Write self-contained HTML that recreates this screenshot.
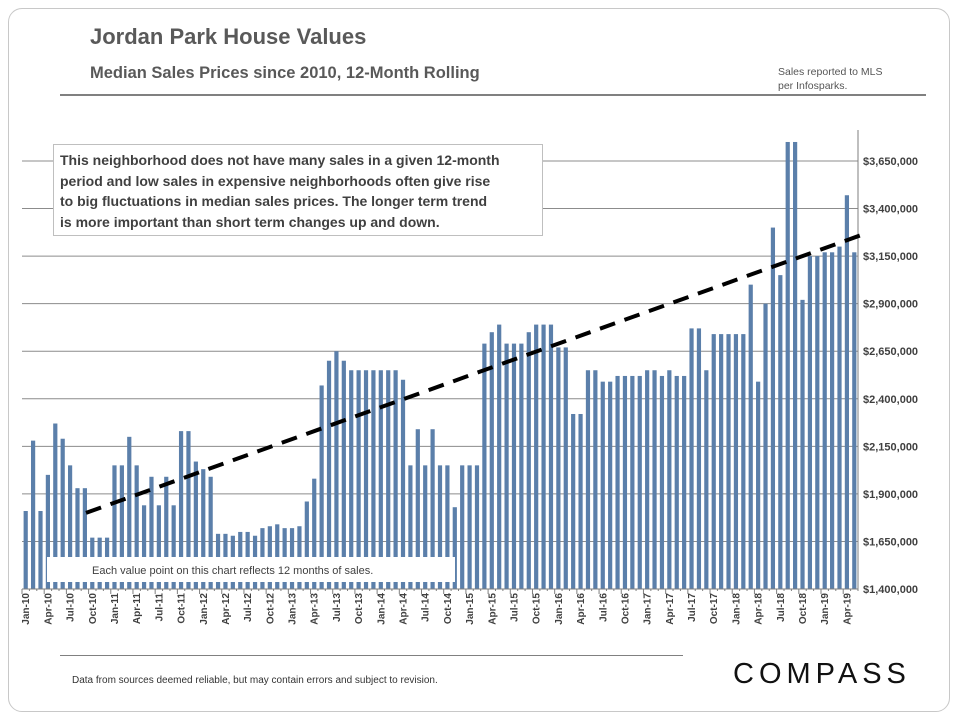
<!DOCTYPE html>
<html><head><meta charset="utf-8"><style>
body{margin:0;width:960px;height:720px;background:#fff;position:relative;font-family:"Liberation Sans",sans-serif;overflow:hidden}
.abs{position:absolute}
</style></head><body>
<div class="abs" style="left:8px;top:8px;width:940px;height:702px;border:1px solid #c8c8c8;border-radius:14px"></div>
<div class="abs" style="left:90px;top:24px;font-size:22px;font-weight:bold;color:#595959">Jordan Park House Values</div>
<div class="abs" style="left:90px;top:64px;font-size:16.5px;font-weight:bold;color:#595959">Median Sales Prices since 2010, 12-Month Rolling</div>
<div class="abs" style="left:778px;top:65px;font-size:10.5px;color:#555;line-height:14px">Sales reported to MLS<br>per Infosparks.</div>
<div class="abs" style="left:60px;top:94px;width:866px;height:2px;background:#808080"></div>
<svg class="abs" style="left:0;top:0" width="960" height="720" id="chart"></svg>
<div class="abs" style="left:53px;top:144px;width:476px;height:80px;border:1px solid #bfbfbf;background:#fff;padding:5px 6px;font-size:14px;font-weight:bold;color:#404040;line-height:20.5px;white-space:nowrap;overflow:hidden">This neighborhood does not have many sales in a given 12-month<br>period and low sales in expensive neighborhoods often give rise<br>to big fluctuations in median sales prices. The longer term trend<br>is more important than short term changes up and down.</div>
<div class="abs" style="left:60px;top:655px;width:623px;height:1px;background:#808080"></div>
<div class="abs" style="left:72px;top:675px;font-size:10px;color:#333">Data from sources deemed reliable, but may contain errors and subject to revision.</div>
<div class="abs" style="left:733px;top:658px;font-size:29px;letter-spacing:5px;color:#111;font-weight:normal">COMPASS</div>
<script>
const months=["Jan","Feb","Mar","Apr","May","Jun","Jul","Aug","Sep","Oct","Nov","Dec"];
const categories=[];for(let y=10;y<=19;y++)for(let m=0;m<12;m++){if(y===19&&m>4)break;categories.push(months[m]+"-"+y);}
const values=[1.81,2.18,1.81,2.0,2.27,2.19,2.05,1.93,1.93,1.67,1.67,1.67,
2.05,2.05,2.2,2.05,1.84,1.99,1.84,1.99,1.84,2.23,2.23,2.07,
2.03,1.99,1.69,1.69,1.68,1.70,1.70,1.68,1.72,1.73,1.74,1.72,
1.72,1.73,1.86,1.98,2.47,2.6,2.65,2.6,2.55,2.55,2.55,2.55,
2.55,2.55,2.55,2.5,2.05,2.24,2.05,2.24,2.05,2.05,1.83,2.05,
2.05,2.05,2.69,2.75,2.79,2.69,2.69,2.69,2.75,2.79,2.79,2.79,
2.67,2.67,2.32,2.32,2.55,2.55,2.49,2.49,2.52,2.52,2.52,2.52,
2.55,2.55,2.52,2.55,2.52,2.52,2.77,2.77,2.55,2.74,2.74,2.74,
2.74,2.74,3.0,2.49,2.9,3.3,3.05,3.75,3.75,2.92,3.15,3.15,
3.17,3.17,3.2,3.47,3.17].map(v=>v*1e6);
const yTicks=[1400000,1650000,1900000,2150000,2400000,2650000,2900000,3150000,3400000,3650000];
const trendStart=[8.15,1800000];
const trendEnd=[113.6,3270000];
const svg=document.getElementById('chart');const NS="http://www.w3.org/2000/svg";
const L=22,R=858,Y0=589,Y1=161,bw=(R-L)/categories.length;
const ys=v=>Y0-(v-1400000)/(3650000-1400000)*(Y0-Y1);
const xs=i=>L+bw*(i+0.5);
function mk(t,a){const e=document.createElementNS(NS,t);for(const k in a)e.setAttribute(k,a[k]);svg.appendChild(e);return e;}
yTicks.forEach((t,i)=>{
 if(i>0){const g=mk('line',{x1:L,x2:R,y1:ys(t),y2:ys(t),stroke:'#8c8c8c','stroke-width':1});
 
 }
 const tx=mk('text',{x:R+5,y:ys(t)+4,'font-size':11,'font-weight':'bold',fill:'#404040','font-family':'Liberation Sans, sans-serif'});
 tx.textContent='$'+t.toLocaleString('en-US');
 
 
});
values.forEach((v,i)=>{
 const r=mk('rect',{x:xs(i)-2.1,y:ys(v),width:4.2,height:Y0-ys(v),fill:'#5b7faa'});
 
 
});
const band=mk('rect',{x:47,y:557,width:408,height:25,fill:'#fff'});


const bt=mk('text',{x:92,y:574,'font-size':11,fill:'#404040','font-family':'Liberation Sans, sans-serif'});
bt.textContent='Each value point on this chart reflects 12 months of sales.';


const ax=mk('line',{x1:L,x2:R,y1:Y0,y2:Y0,stroke:'#7f7f7f','stroke-width':1});


const ay=mk('line',{x1:R,x2:R,y1:130,y2:Y0,stroke:'#7f7f7f','stroke-width':1});


for(let i=0;i<=categories.length;i++){
 const x=L+bw*i;
 const tk=mk('line',{x1:x,x2:x,y1:Y0,y2:i%3===0?Y0+5:Y0+2,stroke:'#7f7f7f'});
 
 
}
categories.forEach((c,i)=>{
 if(i%3!==0)return;
 const x=xs(i)+3.5;
 const t=mk('text',{x:0,y:0,transform:`translate(${x},${Y0+4}) rotate(-90)`,'text-anchor':'end','font-size':10,'font-weight':'bold',fill:'#404040','font-family':'Liberation Sans, sans-serif'});
 t.textContent=c;
 
 
});
const tl=mk('line',{x1:xs(trendStart[0]),y1:ys(trendStart[1]),x2:xs(trendEnd[0]),y2:ys(trendEnd[1]),stroke:'#000','stroke-width':4,'stroke-dasharray':'16,10'});


</script>
</body></html>
